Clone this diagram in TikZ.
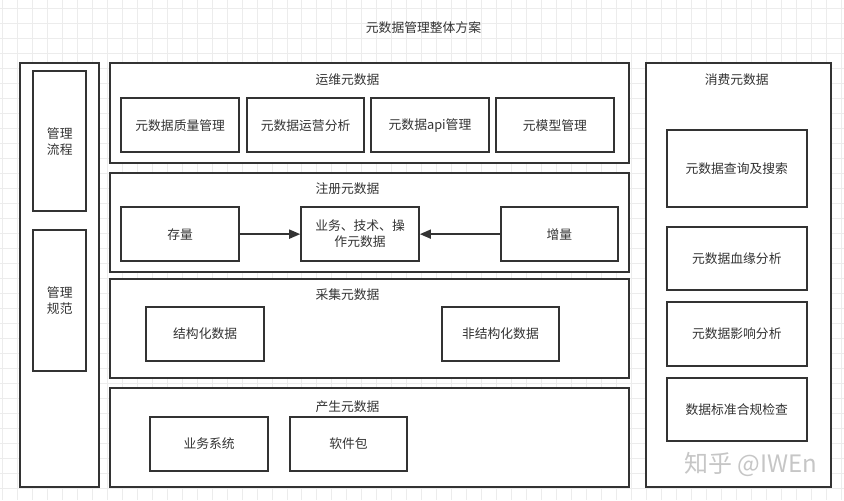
\documentclass[tikz,border=0pt]{standalone}
\usepackage{fontspec}
\setmainfont{Noto Sans CJK SC}
\usepackage{xcolor}
\usetikzlibrary{arrows.meta}
\definecolor{linegray}{RGB}{51,51,51}
\definecolor{gridgray}{RGB}{236,236,236}

\tikzset{
  box/.style={draw=linegray, line width=1.7pt, fill=white, text=linegray,
    font=\fontsize{12.8}{16}\selectfont, align=center, inner sep=0pt},
  panel/.style={box},
  ttl/.style={text=linegray, font=\fontsize{12.8}{16}\selectfont},
  flow/.style={draw=linegray, line width=1.7pt, -{Triangle[length=11pt,width=9pt]}}
}

\begin{document}
\begin{tikzpicture}[x=1pt,y=-1pt]
  % background and grid
  \path[fill=white] (0,0) rectangle (844,500);
  \foreach \x in {1.7,16.7,...,844} {
    \draw[gridgray, line width=0.6pt] (\x,0) -- (\x,500);
  }
  \foreach \y in {8,23,...,500} {
    \draw[gridgray, line width=0.6pt] (0,\y) -- (844,\y);
  }

  \node[ttl] (title) at (423.5,27) {元数据管理整体方案};

  % left column
  \node[panel, minimum width=79, minimum height=424] (mgmt) at (59.5,275) {};
  \node[box, minimum width=53, minimum height=140] (proc) at (59.5,141) {管理\\流程};
  \node[box, minimum width=53, minimum height=141] (norm) at (59.5,300.5) {管理\\规范};

  % ops metadata
  \node[panel, minimum width=519, minimum height=100] (ops) at (369.5,113) {};
  \node[ttl] (opst) at (347.5,79) {运维元数据};
  \node[box, minimum width=118, minimum height=54] (qual) at (180,125) {元数据质量管理};
  \node[box, minimum width=117, minimum height=54] (oper) at (305.5,125) {元数据运营分析};
  \node[box, minimum width=118, minimum height=54] (api) at (430,125) {元数据api管理};
  \node[box, minimum width=118, minimum height=54] (model) at (555,125) {元模型管理};

  % register metadata
  \node[panel, minimum width=519, minimum height=99] (reg) at (369.5,222.5) {};
  \node[ttl] (regt) at (347.5,188) {注册元数据};
  \node[box, minimum width=118, minimum height=54] (stock) at (180,234) {存量};
  \node[box, minimum width=118, minimum height=54] (biz) at (360,234) {业务、技术、操\\作元数据};
  \node[box, minimum width=117, minimum height=54] (incr) at (559.5,234) {增量};
  \draw[flow] (stock) -- (biz);
  \draw[flow] (incr) -- (biz);

  % collect metadata
  \node[panel, minimum width=519, minimum height=99] (coll) at (369.5,328.5) {};
  \node[ttl] (collt) at (347.5,295) {采集元数据};
  \node[box, minimum width=118, minimum height=54] (struct) at (205,334) {结构化数据};
  \node[box, minimum width=117, minimum height=54] (unstruct) at (500.5,334) {非结构化数据};

  % produce metadata
  \node[panel, minimum width=519, minimum height=99] (prod) at (369.5,437.5) {};
  \node[ttl] (prodt) at (347.5,407) {产生元数据};
  \node[box, minimum width=118, minimum height=54] (bsys) at (209,444) {业务系统};
  \node[box, minimum width=117, minimum height=54] (soft) at (348.5,444) {软件包};

  % consume metadata
  \node[panel, minimum width=185, minimum height=424] (cons) at (738.5,275) {};
  \node[ttl] (const) at (737,79) {消费元数据};
  \node[box, minimum width=140, minimum height=77] (query) at (737,168.5) {元数据查询及搜索};
  \node[box, minimum width=140, minimum height=63] (lineage) at (737,258.5) {元数据血缘分析};
  \node[box, minimum width=140, minimum height=64] (impact) at (737,334) {元数据影响分析};
  \node[box, minimum width=140, minimum height=63] (check) at (737,409.5) {数据标准合规检查};

  \node[text=gray!45, font=\fontsize{24}{28}\selectfont] (mark) at (751,465) {知乎 @IWEn};
\end{tikzpicture}
\end{document}
